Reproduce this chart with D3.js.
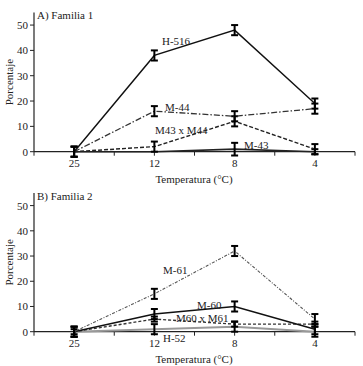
<!DOCTYPE html>
<html>
<head>
<meta charset="utf-8">
<script src="https://cdn.jsdelivr.net/npm/d3@7"></script>
<style>
  body { margin: 0; background: #fff; }
  text { font-family: "Liberation Serif", "DejaVu Serif", serif; fill: #222; }
</style>
</head>
<body>
<svg id="chart" width="363" height="366"></svg>
<script>
// Temperature categories and y ticks
const temps = ["25", "12", "8", "4"];
const yTicks = [0, 10, 20, 30, 40, 50];

// Familia 1
const h516 = [0, 38, 48, 19];
const h516Err = [2, 2, 2, 2];
const m44 = [0, 16, 14, 17];
const m44Err = [2, 2, 2, 2];
const m43xm44 = [0, 2, 12, 1];
const m43xm44Err = [2, 2, 2, 2];
const m43 = [0, 0, 1, 0];
const m43Err = [0, 0, 2.5, 1];

// Familia 2
const m61 = [0, 15, 32, 5];
const m61Err = [2, 2, 2, 2];
const m60 = [0, 7, 10, 1];
const m60Err = [2, 2, 2, 2];
const m60xm61 = [0, 5, 3, 3];
const m60xm61Err = [1, 1, 1, 1];
const h52 = [0, 1, 2, 0];
const h52Err = [2, 2, 2, 2];

const svg = d3.select("#chart");
const x = d3.scalePoint().domain(temps).range([34, 355]).padding(0.5);

const panels = [
  {
    title: "A) Familia 1", y0: 151.7, yTop: 12.4,
    series: [
      { name: "M-43", v: m43, e: m43Err, color: "#222", w: 1.6, dash: null,
        label: [244, 149] },
      { name: "M43 x M44", v: m43xm44, e: m43xm44Err, color: "#222", w: 1.4, dash: "4,2",
        label: [155, 134] },
      { name: "M-44", v: m44, e: m44Err, color: "#333", w: 1.3, dash: "6,2,1.5,2",
        label: [165, 111] },
      { name: "H-516", v: h516, e: h516Err, color: "#111", w: 1.4, dash: null,
        label: [162, 45] }
    ]
  },
  {
    title: "B) Familia 2", y0: 331.7, yTop: 193,
    series: [
      { name: "H-52", v: h52, e: h52Err, color: "#999", w: 2, dash: null,
        label: [163, 342] },
      { name: "M60 x M61", v: m60xm61, e: m60xm61Err, color: "#333", w: 1.4, dash: "3,2",
        label: [176, 322] },
      { name: "M-60", v: m60, e: m60Err, color: "#111", w: 1.5, dash: null,
        label: [197, 309] },
      { name: "M-61", v: m61, e: m61Err, color: "#555", w: 1.1, dash: "3,1.5,1,1.5",
        label: [163, 274] }
    ]
  }
];

panels.forEach(p => {
  const y = d3.scaleLinear().domain([0, 55]).range([p.y0, p.yTop]);
  const g = svg.append("g");

  // y axis
  g.append("line")
    .attr("x1", 34).attr("x2", 34)
    .attr("y1", p.y0).attr("y2", p.yTop)
    .attr("stroke", "#222").attr("stroke-width", 1.2);
  g.selectAll(".ytick").data(yTicks).enter().append("line")
    .attr("x1", 30).attr("x2", 34)
    .attr("y1", d => y(d)).attr("y2", d => y(d))
    .attr("stroke", "#222");
  g.selectAll(".ylab").data(yTicks).enter().append("text")
    .attr("x", 28).attr("y", d => y(d) + 4)
    .attr("text-anchor", "end").attr("font-size", 11)
    .text(d => d);

  // x axis
  g.append("line")
    .attr("x1", 34).attr("x2", 355)
    .attr("y1", p.y0).attr("y2", p.y0)
    .attr("stroke", "#222").attr("stroke-width", 1.2);
  const step = x.step();
  const xt = [];
  temps.forEach(t => { xt.push(x(t)); xt.push(x(t) + step / 2); });
  xt.push(34);
  g.selectAll(".xtick").data(xt).enter().append("line")
    .attr("x1", d => d).attr("x2", d => d)
    .attr("y1", p.y0).attr("y2", p.y0 + 4)
    .attr("stroke", "#222");
  g.selectAll(".xlab").data(temps).enter().append("text")
    .attr("x", d => x(d)).attr("y", p.y0 + 15.5)
    .attr("text-anchor", "middle").attr("font-size", 11)
    .text(d => d);

  g.append("text")
    .attr("x", 194).attr("y", p.y0 + 31)
    .attr("text-anchor", "middle").attr("font-size", 11)
    .text("Temperatura (°C)");
  g.append("text")
    .attr("transform", `translate(13,${(p.y0 + p.yTop) / 2}) rotate(-90)`)
    .attr("text-anchor", "middle").attr("font-size", 11)
    .text("Porcentaje");
  g.append("text")
    .attr("x", 37).attr("y", p.yTop + 7)
    .attr("font-size", 11)
    .text(p.title);

  const line = d3.line().x((d, i) => x(temps[i])).y(d => y(d));

  p.series.forEach(s => {
    g.append("path")
      .attr("d", line(s.v))
      .attr("fill", "none")
      .attr("stroke", s.color)
      .attr("stroke-width", s.w)
      .attr("stroke-dasharray", s.dash);

    // error bars
    s.v.forEach((v, i) => {
      const e = s.e[i];
      if (!e) return;
      const cx = x(temps[i]);
      const eb = g.append("g").attr("stroke", "#000").attr("stroke-width", 2);
      eb.append("line").attr("x1", cx).attr("x2", cx)
        .attr("y1", y(v - e)).attr("y2", y(v + e));
      [v - e, v + e].forEach(c => {
        eb.append("line").attr("x1", cx - 3.5).attr("x2", cx + 3.5)
          .attr("y1", y(c)).attr("y2", y(c));
      });
    });

    g.append("text")
      .attr("x", s.label[0]).attr("y", s.label[1])
      .attr("font-size", 11)
      .text(s.name);
  });
});
</script>
</body>
</html>
